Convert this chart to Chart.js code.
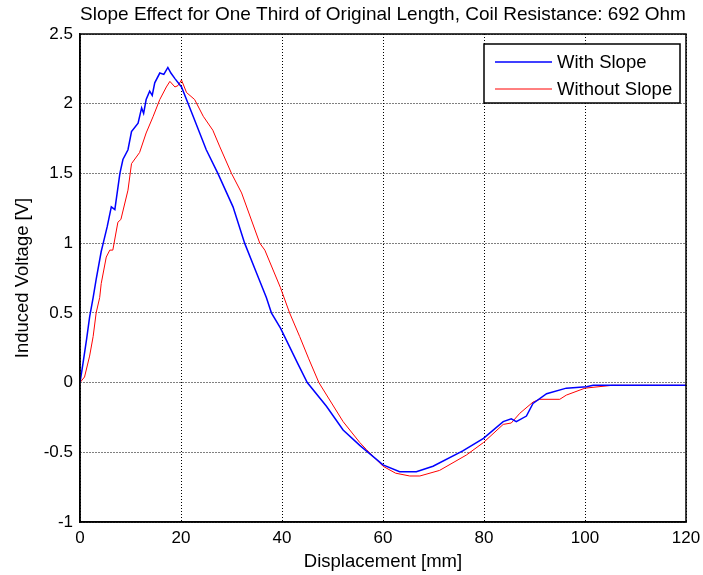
<!DOCTYPE html>
<html>
<head>
<meta charset="utf-8">
<script src="https://cdn.jsdelivr.net/npm/chart.js@4.4.1/dist/chart.umd.min.js"></script>
<style>
  body { margin: 0; background: #fff; }
  #wrap { width: 703px; height: 575px; }
</style>
</head>
<body>
<div id="wrap"><canvas id="graph" width="703" height="575"></canvas></div>
<script>
const tituloGrafico = 'Slope Effect for One Third of Original Length, Coil Resistance: 692 Ohm';
const tituloX = 'Displacement [mm]';
const tituloY = 'Induced Voltage [V]';
const nombresSeries = ['With Slope', 'Without Slope'];

const xTicks = [0, 20, 40, 60, 80, 100, 120];
const yTicks = [-1, -0.5, 0, 0.5, 1, 1.5, 2, 2.5];
const yTickLabels = ['-1', '-0.5', '0', '0.5', '1', '1.5', '2', '2.5'];

// With Slope (azul)
const conPendienteX = [0, 0.6, 1.3, 1.9, 2.6, 3.2, 4.2, 4.6, 5.4, 6.2, 6.9, 7.9, 8.5, 9.5, 10.2, 11.5, 12.2, 12.6,
  13.1, 13.8, 14.3, 14.8, 15.8, 16.6, 17.4, 18.0, 18.8, 20.1, 22.4, 25.0, 27.3, 30.3, 32.6, 34.8, 36.9, 37.9,
  39.7, 43.2, 45.0, 48.8, 52.1, 55.4, 60.0, 63.3, 66.6, 69.9, 75.8, 79.9, 83.8, 85.4, 86.4, 88.4, 89.7, 92.4,
  96.3, 100.3, 101.6, 120];
const conPendienteY = [0, 0.14, 0.31, 0.47, 0.61, 0.74, 0.94, 1.0, 1.12, 1.26, 1.24, 1.5, 1.6, 1.67, 1.80, 1.86, 1.97, 1.93,
  2.03, 2.09, 2.06, 2.15, 2.22, 2.21, 2.26, 2.22, 2.18, 2.12, 1.91, 1.67, 1.5, 1.26, 1.0, 0.8, 0.61, 0.5,
  0.39, 0.13, 0, -0.17, -0.34, -0.45, -0.59, -0.64, -0.64, -0.60, -0.49, -0.40, -0.28, -0.26, -0.28, -0.24, -0.15, -0.08,
  -0.04, -0.03, -0.02, -0.02];

// Without Slope (rojo)
const sinPendienteX = [0, 0.9, 1.9, 2.6, 3.2, 3.9, 4.2, 5.2, 5.9, 6.5, 7.5, 8.1, 9.5, 10.2, 11.8, 13.1, 14.5, 15.8,
  17.1, 17.8, 18.8, 19.4, 20.1, 21.1, 22.7, 24.4, 26.3, 27.7, 30.0, 32.0, 35.6, 36.6, 39.7, 41.5, 43.5, 45.3,
  47.3, 52.1, 55.4, 56.7, 60.0, 62.5, 65.3, 67.3, 71.2, 76.5, 79.9, 83.8, 85.4, 87.1, 89.7, 91.0, 95.0, 96.3,
  100.0, 105.3, 120];
const sinPendienteY = [0, 0.04, 0.19, 0.33, 0.5, 0.61, 0.71, 0.9, 0.95, 0.95, 1.15, 1.17, 1.38, 1.57, 1.65, 1.79, 1.91, 2.03,
  2.12, 2.16, 2.12, 2.13, 2.17, 2.08, 2.03, 1.91, 1.81, 1.69, 1.5, 1.36, 1.0, 0.95, 0.68, 0.5, 0.33, 0.17,
  0, -0.28, -0.43, -0.48, -0.6, -0.65, -0.67, -0.67, -0.63, -0.52, -0.43, -0.30, -0.29, -0.22, -0.14, -0.12, -0.12, -0.09,
  -0.04, -0.02, -0.02];

const fuente = '"Liberation Sans", Arial, sans-serif';

const aPuntos = (xs, ys) => xs.map((x, i) => ({x: x, y: ys[i]}));

// Marco negro alrededor del area del grafico
const marco = {
  id: 'marco',
  afterDatasetsDraw(chart) {
    const {ctx, chartArea} = chart;
    ctx.save();
    ctx.strokeStyle = '#000';
    ctx.lineWidth = 1.5;
    ctx.strokeRect(chartArea.left, chartArea.top, chartArea.right - chartArea.left, chartArea.bottom - chartArea.top);
    ctx.restore();
  }
};

// Leyenda dentro del grafico, arriba a la derecha
const leyenda = {
  id: 'leyenda',
  afterDraw(chart) {
    const {ctx, chartArea} = chart;
    const ancho = 196, alto = 59;
    const left = chartArea.right - 6 - ancho;
    const top = chartArea.top + 10;
    ctx.save();
    ctx.fillStyle = '#fff';
    ctx.fillRect(left, top, ancho, alto);
    ctx.strokeStyle = '#000';
    ctx.lineWidth = 1.5;
    ctx.strokeRect(left, top, ancho, alto);
    chart.data.datasets.forEach((ds, i) => {
      const y = top + 18 + i * 27;
      ctx.beginPath();
      ctx.strokeStyle = ds.borderColor;
      ctx.lineWidth = ds.borderWidth;
      ctx.moveTo(left + 11, y);
      ctx.lineTo(left + 68, y);
      ctx.stroke();
      ctx.fillStyle = '#000';
      ctx.font = '18.5px ' + fuente;
      ctx.textBaseline = 'middle';
      ctx.fillText(ds.label, left + 73, y + 1);
    });
    ctx.restore();
  }
};

const data = {
  datasets: [
    {
      label: nombresSeries[0],
      data: aPuntos(conPendienteX, conPendienteY),
      borderColor: '#0000ff',
      borderWidth: 1.5,
      pointRadius: 0,
      tension: 0,
      fill: false,
    },
    {
      label: nombresSeries[1],
      data: aPuntos(sinPendienteX, sinPendienteY),
      borderColor: '#ff0000',
      borderWidth: 1,
      pointRadius: 0,
      tension: 0,
      fill: false,
    }
  ]
};

const config = {
  type: 'line',
  data: data,
  options: {
    responsive: false,
    animation: false,
    layout: {padding: {left: 0, right: 0, top: 3, bottom: 0}},
    plugins: {
      legend: {display: false},
      tooltip: {enabled: false},
      title: {
        display: true,
        fullSize: false,
        text: tituloGrafico,
        color: '#000',
        font: {family: fuente, size: 19, weight: 'normal'},
        padding: {top: 0, bottom: 8.2},
      },
    },
    scales: {
      x: {
        type: 'linear',
        min: xTicks[0],
        max: xTicks[xTicks.length - 1],
        afterBuildTicks: (scale) => { scale.ticks = xTicks.map((v) => ({value: v})); },
        afterFit: (scale) => { scale.height = 53; scale.paddingRight = 17; },
        ticks: {color: '#000', font: {family: fuente, size: 17}, padding: 5.8, maxRotation: 0},
        grid: {color: '#000', lineWidth: 1, drawTicks: false},
        border: {display: true, color: '#000', width: 1.5, dash: [1, 2]},
        title: {display: true, text: tituloX, color: '#000', font: {family: fuente, size: 18.5}, padding: {top: 0, bottom: 1.9}},
      },
      y: {
        type: 'linear',
        min: yTicks[0],
        max: yTicks[yTicks.length - 1],
        afterBuildTicks: (scale) => { scale.ticks = yTicks.map((v) => ({value: v})); },
        afterFit: (scale) => { scale.width = 80; },
        ticks: {
          color: '#000',
          font: {family: fuente, size: 17},
          padding: 7,
          callback: (v) => yTickLabels[yTicks.indexOf(v)],
        },
        grid: {color: '#000', lineWidth: 1, drawTicks: false},
        border: {display: true, color: '#000', width: 1.5, dash: [1, 2]},
        title: {display: true, text: tituloY, color: '#000', font: {family: fuente, size: 18.5}, padding: {top: 11.9, bottom: 0}},
      },
    },
  },
  plugins: [marco, leyenda],
};

new Chart(document.getElementById('graph'), config);
</script>
</body>
</html>
